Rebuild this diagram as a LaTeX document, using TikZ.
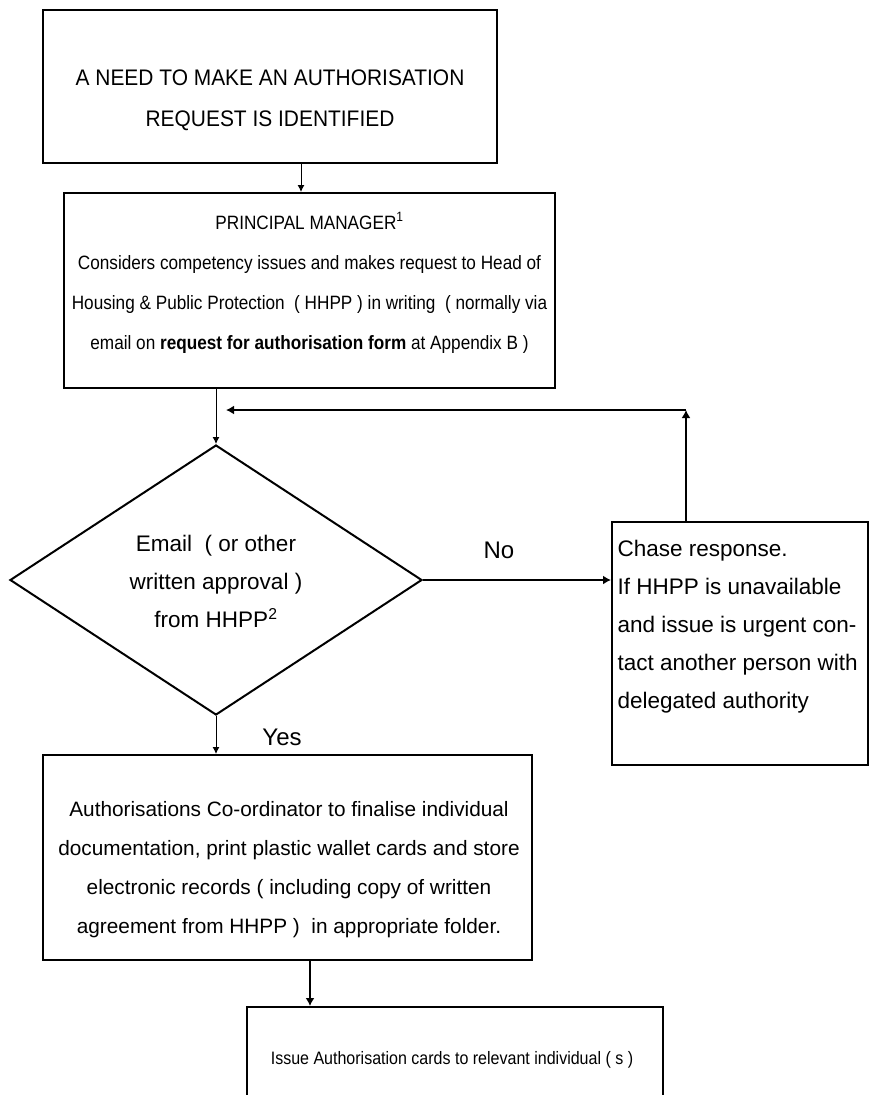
\documentclass[tikz,border=0pt]{standalone}
\usepackage{fontspec}
\setmainfont{Liberation Sans}
\newfontfamily\narrowfont[FakeStretch=0.89]{Liberation Sans}
\newfontfamily\capsfont[FakeStretch=0.93]{Liberation Sans}
\usetikzlibrary{positioning}
\usetikzlibrary{shapes.geometric}
\usetikzlibrary{arrows.meta}
\newcommand{\fsz}[2]{\fontsize{#1}{#2}\selectfont}
\tikzset{every node/.style={align=center},
         box/.style={ % Frame of each step, the text sits in its own node
           draw, rectangle, line width=2pt, inner sep=0pt},
         decision/.style={ % The question
           draw, diamond, line width=2pt, inner sep=0pt},
         answer/.style={font=\fsz{24}{28}},
         every edge/.style={draw, ->, line width=1pt},
         >={Latex[length=7pt,width=7pt]}}

\begin{document}
\begin{tikzpicture}[x=1pt, y=-1pt]
  \useasboundingbox (0,0) rectangle (872,1095);

  % The steps
  \node [box, minimum width=454pt, minimum height=153pt] (need) at (270,86.5) {};
  \node [font=\capsfont\fsz{22.5}{41}] (needtext) at (270,100) {
    A NEED TO MAKE AN AUTHORISATION\\
    REQUEST IS IDENTIFIED};

  \node [box, minimum width=491pt, minimum height=195pt] (manager) at (309.5,290.5) {};
  \node [font=\narrowfont\fsz{19.3}{40}] (managertext) at (309.5,283) {
    PRINCIPAL MANAGER\textsuperscript{1}\\
    Considers competency issues and makes request to Head of\\
    Housing \& Public Protection \ ( HHPP ) in writing \ ( normally via\\
    email on \textbf{request for authorisation form} at Appendix B )};

  \node [decision, minimum width=412pt, minimum height=270pt] (approval) at (216,580) {};
  \node [font=\fsz{22.5}{38}] (approvaltext) at (216,581) {
    Email \ ( or other\\
    written approval )\\
    from HHPP\textsuperscript{2}};

  \node [box, minimum width=256pt, minimum height=243pt] (chase) at (740,643.5) {};
  \node [font=\fsz{22.5}{38}, anchor=west, align=left] (chasetext) at (614,627) {
    Chase response.\\
    If HHPP is unavailable\\
    and issue is urgent con-\\
    tact another person with\\
    delegated authority};

  \node [box, minimum width=489pt, minimum height=205pt] (coordinator) at (287.5,857.5) {};
  \node [font=\fsz{20.8}{39}] (coordinatortext) at (289,870) {
    Authorisations Co-ordinator to finalise individual\\
    documentation, print plastic wallet cards and store\\
    electronic records ( including copy of written\\
    agreement from HHPP ) \ in appropriate folder.};

  \node [box, minimum width=416pt, minimum height=150pt] (issue) at (455,1082) {};
  \node [font=\narrowfont\fsz{18}{40}] (issuetext) at (452,1060) {
    Issue Authorisation cards to relevant individual ( s )};

  % Flow down
  \draw ([xshift=31pt]need.south) edge ([xshift=31pt]need.south |- manager.north);
  \draw (approval.north |- manager.south) edge (approval.north);
  \draw (approval.south) edge (coordinator.north -| approval.south);
  \node [answer] (yes) at (282,737.5) {Yes};
  \draw ([xshift=22.5pt]coordinator.south) edge [line width=2pt, >={Latex[length=8pt,width=9pt]}]
    ([xshift=22.5pt]coordinator.south |- issue.north);

  % No: chase and go back
  \draw (approval.east) edge [line width=2pt, >={Latex[length=8pt,width=9pt]}] (approval.east -| chase.west);
  \node [answer] (no) at (499,550) {No};
  \coordinate (turn) at (686,410);
  \coordinate (back) at (226,410);
  \draw (chase.north -| turn) edge [line width=2pt, >={Latex[length=8pt,width=9pt]}] (turn);
  \draw (turn) edge [line width=2pt, >={Latex[length=8pt,width=9pt]}] (back);
\end{tikzpicture}
\end{document}
